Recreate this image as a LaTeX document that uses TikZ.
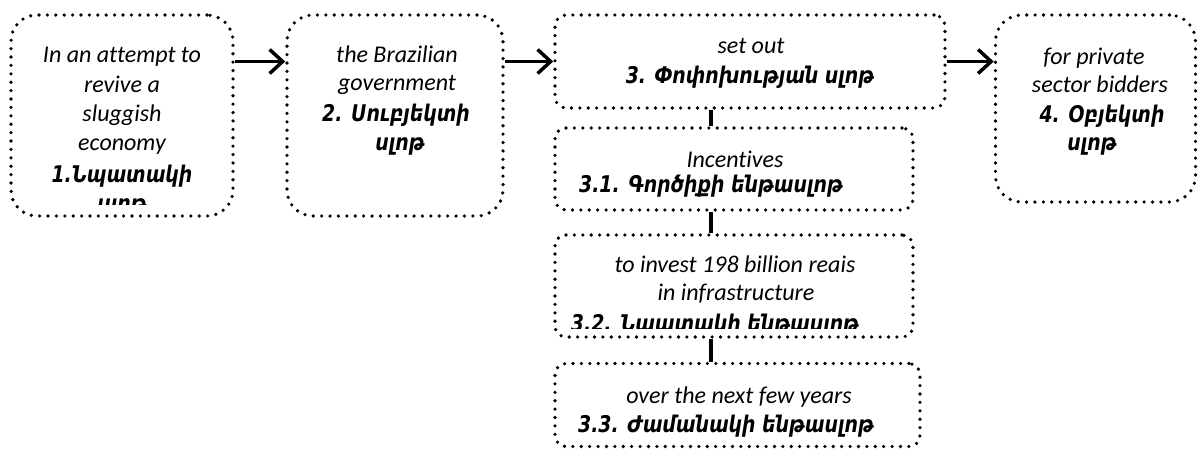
\documentclass[tikz,border=0pt]{standalone}
\usepackage{fontspec}
\setmainfont{Carlito}[Ligatures=NoCommon]
\newfontfamily\armfont{DejaVu Sans}[FakeStretch=0.82]
\usetikzlibrary{arrows.meta,calc}

\tikzset{
  slot/.style={draw, line width=3.6pt, dash pattern=on 0pt off 8.4pt, line cap=round,
               inner sep=0pt},
  bigslot/.style={slot, rounded corners=26pt},
  smallslot/.style={slot, rounded corners=11pt},
  lat/.style={anchor=base, inner sep=0pt, font=\itshape\fontsize{24}{29}\selectfont},
  armn/.style={anchor=base, inner sep=0pt, font=\armfont\bfseries\itshape\fontsize{23}{29}\selectfont},
  flow/.style={line width=3.5pt, -{Straight Barb[length=13pt,width=24pt,line width=3.5pt]}},
  link/.style={line width=3.5pt}
}

\begin{document}
\begin{tikzpicture}[x=1pt,y=-1pt]
\useasboundingbox (0,0) rectangle (1198,448);

% top row of slots
\node[bigslot, minimum width=222pt, minimum height=201pt] (n1) at (122,115.5) {};
\node[bigslot, minimum width=216pt, minimum height=201pt] (n2) at (395,115.5) {};
\node[smallslot, minimum width=390pt, minimum height=93pt] (n3) at (750,61.5) {};
\node[bigslot, minimum width=200pt, minimum height=187pt] (n4) at (1095.5,108.5) {};

% sub-slots of the change slot
\node[smallslot, minimum width=358pt, minimum height=82pt] (n31) at (734,169) {};
\node[smallslot, minimum width=358pt, minimum height=102pt] (n32) at (734,286) {};
\node[smallslot, minimum width=365pt, minimum height=83pt] (n33) at (737.5,405) {};

% slot 1, text cut off at the lower edge
\begin{scope}
  \clip ($(n1.south west)+(0pt,13pt)$) rectangle (n1.north east);
  \node[lat]  (t1a) at (122,62)  {In an attempt to};
  \node[lat]  (t1b) at (122,92)  {revive a};
  \node[lat]  (t1c) at (122,121) {sluggish};
  \node[lat]  (t1d) at (122,150) {economy};
  \node[armn] (t1e) at (122,182) {1.Նպատակի};
  \node[armn] (t1f) at (122,211) {սլոթ};
\end{scope}

% slot 2
\node[lat]  (t2a) at (397,62)  {the Brazilian};
\node[lat]  (t2b) at (397,90)  {government};
\node[armn] (t2c) at (396,121) {2. Սուբյեկտի};
\node[armn] (t2d) at (400,150) {սլոթ};

% slot 3 and its sub-slots
\node[lat]  (t3a) at (751,53)  {set out};
\node[armn] (t3b) at (750,83)  {3. Փոփոխության սլոթ};

\node[lat]  (t31a) at (735,167) {Incentives};
\node[armn] (t31b) at (711,192) {3.1. Գործիքի ենթասլոթ};

\begin{scope}
  \clip ($(n32.south west)+(0pt,10pt)$) rectangle (n32.north east);
  \node[lat]  (t32a) at (735,272) {to invest 198 billion reais};
  \node[lat]  (t32b) at (736,300) {in infrastructure};
  \node[armn] (t32c) at (715,331) {3.2. Նպատակի ենթասլոթ};
\end{scope}

\node[lat]  (t33a) at (739,403) {over the next few years};
\node[armn] (t33b) at (726,432) {3.3. Ժամանակի ենթասլոթ};

% slot 4
\node[lat]  (t4a) at (1094,64)  {for private};
\node[lat]  (t4b) at (1100,92)  {sector bidders};
\node[armn] (t4c) at (1102,122) {4. Օբյեկտի};
\node[armn] (t4d) at (1092,150) {սլոթ};

% main flow, level with the middle of the change slot
\draw[flow] (n1.east |- n3.west) -- (n2.west |- n3.west);
\draw[flow] (n2.east |- n3.west) -- (n3.west);
\draw[flow] (n3.east) -- (n4.west |- n3.east);

% chain of sub-slots
\coordinate (spine) at (711,0);
\draw[link] (n3.south -| spine) -- (n31.north -| spine);
\draw[link] (n31.south -| spine) -- (n32.north -| spine);
\draw[link] (n32.south -| spine) -- (n33.north -| spine);
\end{tikzpicture}
\end{document}
